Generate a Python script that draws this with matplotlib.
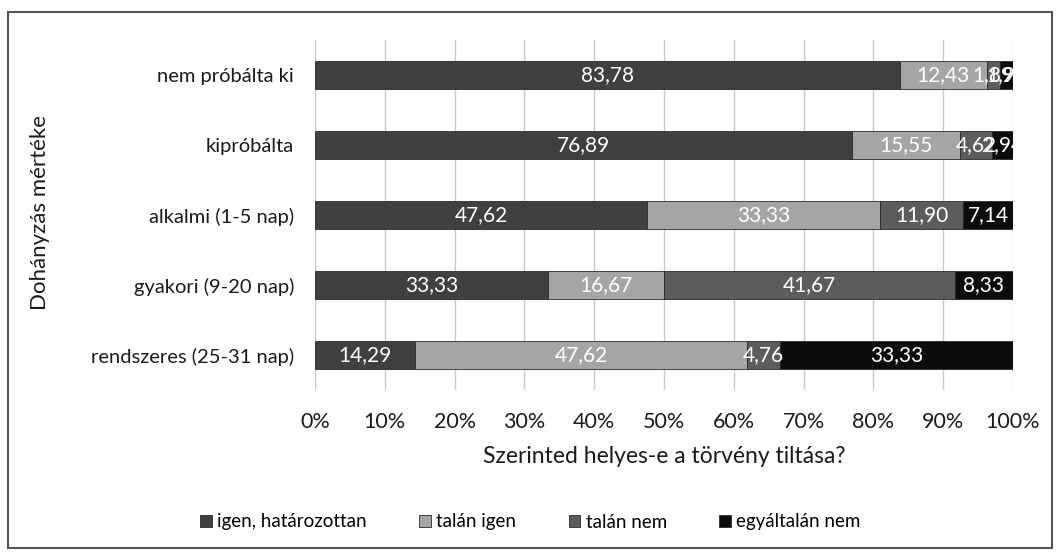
import matplotlib.pyplot as plt
import matplotlib.patches as patches
import numpy as np

plt.rcParams['font.family'] = ['Lato', 'DejaVu Sans']

# smoking categories, bottom to top
categories = ['rendszeres (25-31 nap)', 'gyakori (9-20 nap)', 'alkalmi (1-5 nap)',
              'kipróbálta', 'nem próbálta ki']
series = ['igen, határozottan', 'talán igen', 'talán nem', 'egyáltalán nem']
igen = [14.29, 33.33, 47.62, 76.89, 83.78]
talan_igen = [47.62, 16.67, 33.33, 15.55, 12.43]
talan_nem = [4.76, 41.67, 11.90, 4.62, 1.89]
egyaltalan = [33.33, 8.33, 7.14, 2.94, 1.90]
colors = ['#404040', '#a5a5a5', '#5c5c5c', '#0c0c0c']

fig = plt.figure(figsize=(10.61, 5.54), dpi=100)
ax = fig.add_axes([315 / 1061, 1 - 390 / 554, 698 / 1061, 350 / 554])

y = np.arange(len(categories))
left = np.zeros(len(categories))
for name, vals, col in zip(series, [igen, talan_igen, talan_nem, egyaltalan], colors):
    vals = np.array(vals)
    ax.barh(y, vals, left=left, height=0.4, color=col, edgecolor='#2a2a2a',
            linewidth=0.6, label=name, zorder=3)
    for yi, l, v in zip(y, left, vals):
        ax.text(l + v / 2, yi, f'{v:.2f}'.replace('.', ','), ha='center', va='center',
                color='white', fontsize=15, zorder=4)
    left += vals

ax.set_xlim(0, 100)
ax.set_ylim(-0.5, 4.5)
ax.set_xticks(np.arange(0, 101, 10))
ax.set_xticklabels([f'{t}%' for t in range(0, 101, 10)])
ax.set_yticks(y)
ax.set_yticklabels(categories)
ax.tick_params(length=0, colors='#1a1a1a')
ax.tick_params(axis='x', pad=16, labelsize=15.5)
ax.tick_params(axis='y', pad=15, labelsize=14.5)
ax.grid(axis='x', color='#c8c8c8', linewidth=1, zorder=0)
for s in ax.spines.values():
    s.set_visible(False)

ax.set_xlabel('Szerinted helyes-e a törvény tiltása?', fontsize=16.5, labelpad=10, color='#1a1a1a')
fig.text(40 / 1061, 1 - 212 / 554, 'Dohányzás mértéke', rotation=90, ha='center', va='center',
         fontsize=16, color='#1a1a1a')

fig.legend(loc='center', bbox_to_anchor=(0.5, 1 - 522 / 554), ncol=4, frameon=False,
           fontsize=13.5, handlelength=0.6, handleheight=0.6, handletextpad=0.3,
           columnspacing=2.8)

# outer frame
fig.patches.append(patches.Rectangle((8 / 1061, 6 / 554), 1044 / 1061, 536 / 554,
                                     transform=fig.transFigure, fill=False,
                                     edgecolor='#555555', linewidth=1.5))

fig.savefig('out.png', dpi=100)
